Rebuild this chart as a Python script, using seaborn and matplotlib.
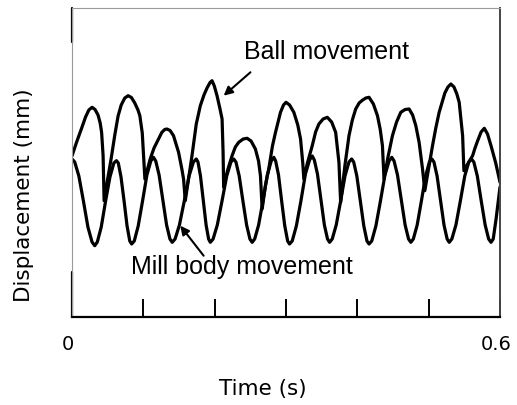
import matplotlib
matplotlib.use("Agg")
import matplotlib.pyplot as plt
import matplotlib.transforms as mtransforms
import seaborn as sns

# ---- data (time in s, displacement in arbitrary mm units) ----
mill_t = [0.0, 0.0038, 0.0096, 0.0160, 0.0223, 0.0281,
          0.0319, 0.0355, 0.0410, 0.0471, 0.0532, 0.0587,
          0.0623, 0.0649, 0.0687, 0.0730, 0.0772, 0.0810,
          0.0836, 0.0873, 0.0928, 0.0989, 0.1050, 0.1105,
          0.1142, 0.1174, 0.1221, 0.1274, 0.1326, 0.1373,
          0.1405, 0.1445, 0.1506, 0.1574, 0.1641, 0.1702,
          0.1742, 0.1766, 0.1801, 0.1841, 0.1880, 0.1915,
          0.1939, 0.1978, 0.2037, 0.2103, 0.2169, 0.2228,
          0.2267, 0.2298, 0.2344, 0.2396, 0.2448, 0.2494,
          0.2525, 0.2561, 0.2616, 0.2677, 0.2738, 0.2793,
          0.2829, 0.2855, 0.2895, 0.2939, 0.2983, 0.3023,
          0.3049, 0.3087, 0.3145, 0.3209, 0.3272, 0.3330,
          0.3368, 0.3397, 0.3441, 0.3490, 0.3538, 0.3582,
          0.3611, 0.3648, 0.3704, 0.3766, 0.3827, 0.3883,
          0.3920, 0.3949, 0.3993, 0.4042, 0.4091, 0.4135,
          0.4164, 0.4202, 0.4260, 0.4324, 0.4387, 0.4445,
          0.4483, 0.4515, 0.4563, 0.4617, 0.4670, 0.4718,
          0.4750, 0.4785, 0.4839, 0.4898, 0.4957, 0.5010,
          0.5045, 0.5074, 0.5118, 0.5167, 0.5215, 0.5259,
          0.5288, 0.5325, 0.5382, 0.5444, 0.5506, 0.5563,
          0.5600, 0.5633, 0.5682, 0.5737, 0.5792, 0.5841,
          0.5874, 0.5905, 0.5945, 0.6000]
mill_d = [4.2, 3.9, 2.5, 0.0, -2.6, -4.1,
          -4.47, -4.1, -2.6, 0.0, 2.4, 3.8,
          4.03, 3.8, 2.4, 0.0, -2.5, -4.0,
          -4.3, -4.0, -2.5, 0.0, 2.6, 4.0,
          4.37, 4.0, 2.6, 0.1, -2.4, -3.8,
          -4.13, -3.8, -2.4, 0.0, 2.5, 3.9,
          4.2, 3.9, 2.5, 0.0, -2.4, -3.8,
          -4.13, -3.8, -2.4, 0.0, 2.5, 3.9,
          4.2, 3.9, 2.5, 0.0, -2.4, -3.8,
          -4.13, -3.8, -2.4, 0.0, 2.6, 4.0,
          4.37, 4.0, 2.6, 0.0, -2.5, -4.0,
          -4.3, -4.0, -2.5, 0.0, 2.7, 4.1,
          4.5, 4.1, 2.7, 0.1, -2.4, -3.8,
          -4.13, -3.8, -2.4, 0.0, 2.5, 3.9,
          4.2, 3.9, 2.5, 0.0, -2.5, -4.0,
          -4.3, -4.0, -2.5, 0.0, 2.6, 4.0,
          4.37, 4.0, 2.6, 0.1, -2.4, -3.8,
          -4.13, -3.8, -2.4, 0.0, 2.5, 3.9,
          4.2, 3.9, 2.5, 0.0, -2.4, -3.8,
          -4.13, -3.8, -2.4, 0.0, 2.5, 3.9,
          4.2, 3.9, 2.5, 0.0, -2.4, -3.8,
          -4.13, -3.8, -1.8, 1.4]

ball_t = [0.0, 0.0065, 0.0131, 0.0190, 0.0236, 0.0281, 0.0323, 0.0365, 0.0395, 0.0415, 0.0436, 0.0450,
          0.0500, 0.0548, 0.0600, 0.0646, 0.0690, 0.0740, 0.0787, 0.0833, 0.0880, 0.0925, 0.0951, 0.0985, 0.0998, 0.1022,
          0.1096, 0.1150, 0.1190, 0.1260, 0.1300, 0.1331, 0.1375, 0.1423, 0.1494, 0.1540, 0.1564, 0.1588,
          0.1682, 0.1742, 0.1799, 0.1850, 0.1893, 0.1935, 0.1963, 0.1995, 0.2033, 0.2075, 0.2104, 0.2118, 0.2126,
          0.2178, 0.2244, 0.2290, 0.2337, 0.2400, 0.2455, 0.2510, 0.2571, 0.2615, 0.2642, 0.2666,
          0.2710, 0.2758, 0.2810, 0.2853, 0.2923, 0.2965, 0.3000, 0.3050, 0.3110, 0.3165, 0.3204, 0.3235, 0.3250,
          0.3300, 0.3368, 0.3415, 0.3461, 0.3520, 0.3579, 0.3640, 0.3696, 0.3742, 0.3766,
          0.3825, 0.3883, 0.3930, 0.3977, 0.4025, 0.4075, 0.4120, 0.4164, 0.4225, 0.4282, 0.4320, 0.4352, 0.4374,
          0.4430, 0.4492, 0.4550, 0.4609, 0.4670, 0.4726, 0.4775, 0.4820, 0.4866, 0.4914, 0.4946,
          0.5000, 0.5054, 0.5100, 0.5147, 0.5190, 0.5227, 0.5270, 0.5312, 0.5355, 0.5395, 0.5428, 0.5476, 0.5494,
          0.5555, 0.5616, 0.5650, 0.5687, 0.5735, 0.5780, 0.5825, 0.5874, 0.5940, 0.6000]
ball_d = [4.5, 5.9, 7.2, 8.4, 9.1, 9.37, 9.15, 8.6, 7.8, 6.87, 4.53, 0.03,
          2.2, 4.2, 6.6, 8.5, 9.6, 10.3, 10.53, 10.35, 9.8, 9.1, 8.53, 6.8, 5.2, 2.2,
          4.2, 5.3, 5.87, 6.87, 7.15, 7.2, 7.05, 6.53, 4.87, 3.2, 2.2, 0.03,
          4.53, 7.7, 9.53, 10.6, 11.3, 11.85, 12.03, 11.5, 10.53, 9.2, 8.2, 4.87, 1.37,
          3.0, 4.53, 5.4, 5.87, 6.2, 6.27, 6.0, 5.2, 4.0, 2.53, -0.8,
          1.5, 3.2, 5.5, 6.87, 8.87, 9.6, 9.87, 9.6, 8.87, 7.6, 6.2, 3.8, 2.2,
          3.8, 5.53, 6.9, 7.7, 8.2, 8.37, 7.9, 6.87, 3.87, -0.13,
          3.5, 6.53, 8.1, 9.2, 9.8, 10.1, 10.3, 10.37, 9.7, 8.53, 7.2, 5.53, 2.2,
          4.4, 6.53, 7.9, 8.87, 9.15, 9.2, 8.6, 7.53, 5.87, 3.2, 1.03,
          3.3, 5.53, 7.3, 8.87, 9.9, 10.8, 11.4, 11.7, 11.4, 10.7, 9.87, 6.53, 3.03,
          3.8, 4.53, 5.3, 6.03, 6.9, 7.27, 6.7, 5.53, 3.8, 1.87]

x_ticks = [0.0, 0.1, 0.2, 0.3, 0.4, 0.5, 0.6]
x_tick_labels = ["0", "", "", "", "", "", "0.6"]

ball_label = "Ball movement"
mill_label = "Mill body movement"

# ---- figure ----
sns.set_style("white")
plt.rcParams["font.family"] = ["DejaVu Sans"]
plt.rcParams["text.color"] = "black"
plt.rcParams["axes.labelcolor"] = "black"
plt.rcParams["xtick.color"] = "black"

fig = plt.figure(figsize=(5.17, 4.06), dpi=100)
ax = fig.add_axes([72 / 517, 88 / 406, 428 / 517, 308.7 / 406])

line_kw = dict(color="black", lw=2.3, sort=False, estimator=None,
               solid_joinstyle="round", solid_capstyle="round")
sns.lineplot(x=mill_t, y=mill_d, ax=ax, **line_kw)
sns.lineplot(x=ball_t, y=ball_d, ax=ax, **line_kw)

ax.set_xlim(0, 0.6)
ax.set_ylim(-11.6, 19.27)
ax.set_yticks([])
ax.set_xticks(x_ticks)
ax.set_xticklabels(x_tick_labels)
ax.tick_params(axis="x", direction="in", length=13, width=1.4, labelsize=14, pad=12,
               colors="black", labelcolor="black", bottom=True)

offset = mtransforms.ScaledTranslation(-4 / 100, 0, fig.dpi_scale_trans)
for lab in ax.get_xticklabels():
    lab.set_transform(lab.get_transform() + offset)

# spines
ax.spines["top"].set_color("#9a9a9a")
ax.spines["top"].set_linewidth(0.8)
ax.spines["left"].set_color("#9a9a9a")
ax.spines["left"].set_linewidth(0.8)
ax.spines["right"].set_color("#444444")
ax.spines["right"].set_linewidth(1.4)
ax.spines["bottom"].set_color("black")
ax.spines["bottom"].set_linewidth(1.6)
ax.axvline(0, ymin=0, ymax=0.146, color="black", lw=1.6, clip_on=False)
ax.axvline(0, ymin=0.892, ymax=1.0, color="black", lw=1.6, clip_on=False)

ax.set_xlabel("Time (s)", fontsize=15.5, color="black")
ax.xaxis.label.set_va("center")
ax.xaxis.set_label_coords(0.446, -0.23)
ax.set_ylabel("Displacement (mm)", fontsize=15.5, color="black")
ax.yaxis.label.set_va("center")
ax.yaxis.set_label_coords(-0.112, 0.398)

arrow = dict(arrowstyle="-|>", color="black", lw=1.5, mutation_scale=13, shrinkA=0, shrinkB=0)
ax.annotate("", xy=(0.2126, 10.53), xytext=(0.2501, 12.87), arrowprops=arrow)
ax.annotate("", xy=(0.1518, -2.47), xytext=(0.1845, -5.47), arrowprops=arrow)
ax.text(0.3562, 14.95, ball_label, ha="center", va="center", fontsize=18,
        family=["Liberation Sans"], color="black")
ax.text(0.2375, -6.55, mill_label, ha="center", va="center", fontsize=18,
        family=["Liberation Sans"], color="black")

fig.savefig("out.png", dpi=100)
